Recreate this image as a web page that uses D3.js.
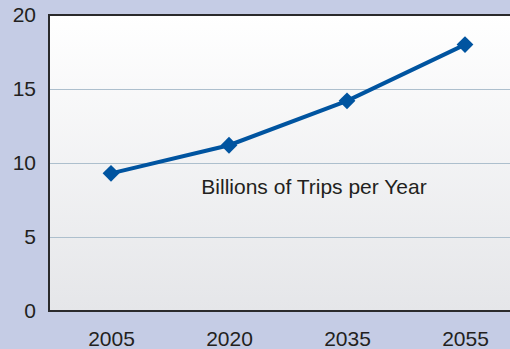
<!DOCTYPE html>
<html>
<head>
<meta charset="utf-8">
<script src="https://cdn.jsdelivr.net/npm/d3@7"></script>
<style>
  html, body { margin: 0; padding: 0; background: #c5cce5; }
  svg { display: block; }
</style>
</head>
<body>
<div id="chart"></div>
<script>
// chart data
const years = ["2005", "2020", "2035", "2055"];
const trips = [9.3, 11.2, 14.2, 18];
const yTicks = [0, 5, 10, 15, 20];
const seriesLabel = "Billions of Trips per Year";

function createLineChart(chartId) {
    const width = 510;
    const height = 349;
    const plot = { left: 49, top: 15, right: 520, bottom: 311 };

    const svg = d3.select(`#${chartId}`)
        .append("svg")
        .attr("width", width)
        .attr("height", height)
        .style("font-family", "'Liberation Sans', Arial, Helvetica, sans-serif");

    // background gradient of the plot area
    const grad = svg.append("defs").append("linearGradient")
        .attr("id", "plotBg")
        .attr("x1", 0).attr("y1", 0).attr("x2", 0).attr("y2", 1);
    grad.append("stop").attr("offset", "0%").attr("stop-color", "#ffffff");
    grad.append("stop").attr("offset", "100%").attr("stop-color", "#e5e6e9");

    const x = d3.scalePoint()
        .domain(years)
        .range([111, 465]);

    const y = d3.scaleLinear()
        .domain([0, 20])
        .range([plot.bottom, plot.top]);

    svg.append("rect")
        .attr("x", plot.left)
        .attr("y", plot.top)
        .attr("width", plot.right - plot.left)
        .attr("height", plot.bottom - plot.top)
        .attr("fill", "url(#plotBg)");

    // gridlines
    svg.append("g")
        .selectAll("line")
        .data(yTicks.filter(d => d > 0 && d < 20))
        .enter()
        .append("line")
        .attr("x1", plot.left)
        .attr("x2", plot.right)
        .attr("y1", d => y(d) + 0.5)
        .attr("y2", d => y(d) + 0.5)
        .attr("stroke", "#adbfcd")
        .attr("stroke-width", 1);

    // border: top, left, bottom
    svg.append("path")
        .attr("d", `M${plot.right},${plot.top} H${plot.left} V${plot.bottom} H${plot.right}`)
        .attr("fill", "none")
        .attr("stroke", "#2a2a2c")
        .attr("stroke-width", 2);

    // y axis labels
    const yAxis = svg.append("g")
        .attr("transform", `translate(${plot.left}, 0)`)
        .call(d3.axisLeft(y).tickValues(yTicks).tickSize(0).tickPadding(13));
    yAxis.select(".domain").remove();
    yAxis.selectAll("text")
        .style("font-size", "21px")
        .attr("fill", "#231f20");

    // x axis labels
    const xAxis = svg.append("g")
        .attr("transform", `translate(0, ${plot.bottom})`)
        .call(d3.axisBottom(x).tickSize(0).tickPadding(20));
    xAxis.select(".domain").remove();
    xAxis.selectAll("text")
        .style("font-size", "21px")
        .attr("fill", "#231f20");

    const points = years.map((yr, i) => ({ year: yr, value: trips[i] }));

    // line
    svg.append("path")
        .datum(points)
        .attr("fill", "none")
        .attr("stroke", "#0054a0")
        .attr("stroke-width", 4)
        .attr("d", d3.line().x(d => x(d.year)).y(d => y(d.value)));

    // diamond markers
    svg.append("g")
        .selectAll("path")
        .data(points)
        .enter()
        .append("path")
        .attr("transform", d => `translate(${x(d.year)}, ${y(d.value)})`)
        .attr("d", d3.symbol().type(d3.symbolDiamond2).size(180))
        .attr("fill", "#0054a0");

    // series label
    svg.append("text")
        .attr("x", 314)
        .attr("y", 194)
        .attr("text-anchor", "middle")
        .style("font-size", "21px")
        .attr("fill", "#231f20")
        .text(seriesLabel);
}

createLineChart("chart");
</script>
</body>
</html>
